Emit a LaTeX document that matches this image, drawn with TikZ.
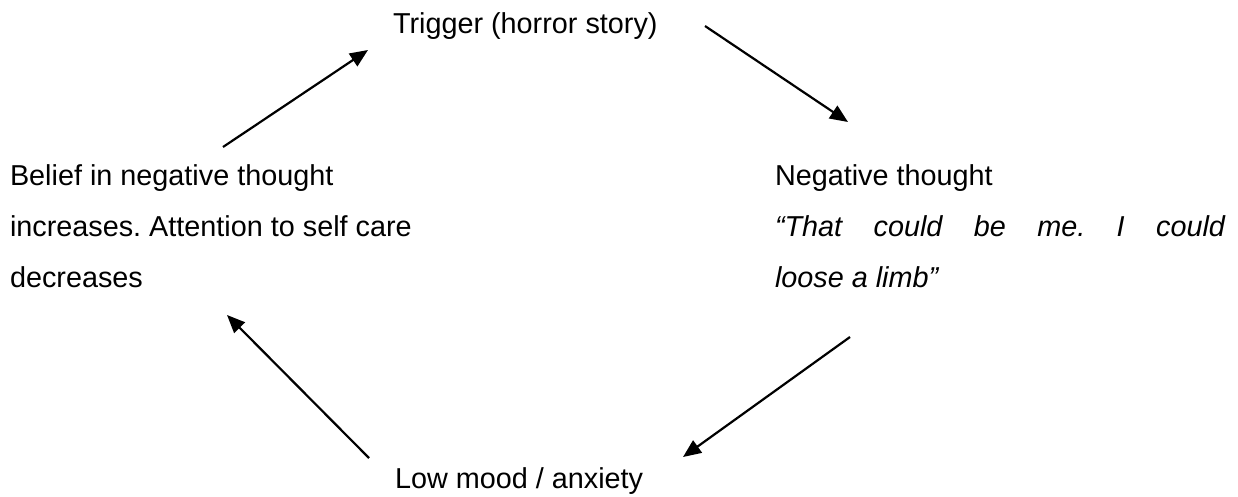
\documentclass[tikz,border=0pt]{standalone}
\usepackage{fontspec}
\setmainfont{Liberation Sans}
\usetikzlibrary{arrows.meta}
\frenchspacing
\tikzset{
  txt/.style={inner sep=0pt, outer sep=0pt, align=left, font=\fontsize{28.8}{51}\selectfont\frenchspacing},
  cyc/.style={line width=2.2pt, -{Triangle[length=18pt,width=15pt]}}
}
\begin{document}
\begin{tikzpicture}[x=1pt,y=-1pt]
\useasboundingbox (0,0) rectangle (1238,496);
\node[txt, anchor=base west] (trig) at (393,33) {Trigger (horror story)};
\node[txt, anchor=base west] (belief) at (10,287) {Belief in negative thought\\increases. Attention to self care\\decreases};
\node[txt, anchor=base west] (neg) at (775,287) {Negative thought\\\hbox to 450pt{\itshape “That\hfill could\hfill be\hfill me.\hfill I\hfill could}\\\textit{loose a limb”}};
\node[txt, anchor=base west] (low) at (395,488) {Low mood / anxiety};
\coordinate (a1s) at (223,147);
\coordinate (a1e) at (368,50);
\coordinate (a2s) at (705,26);
\coordinate (a2e) at (848,122);
\coordinate (a3s) at (850,337);
\coordinate (a3e) at (683,457);
\coordinate (a4s) at (369,458);
\coordinate (a4e) at (227,315);
\draw[cyc] (a1s) -- (a1e);
\draw[cyc] (a2s) -- (a2e);
\draw[cyc] (a3s) -- (a3e);
\draw[cyc] (a4s) -- (a4e);
\end{tikzpicture}
\end{document}
